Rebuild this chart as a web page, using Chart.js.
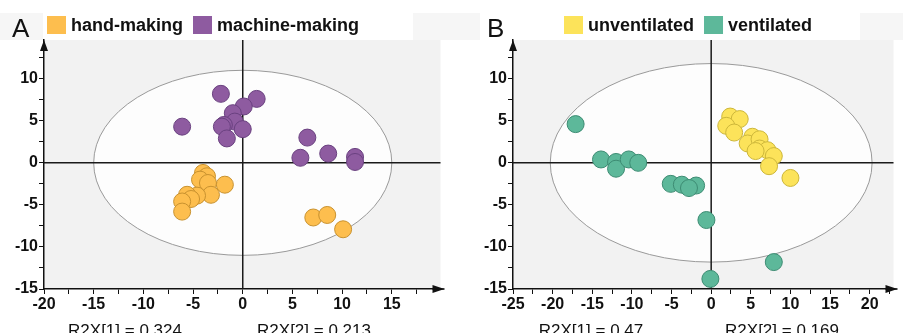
<!DOCTYPE html>
<html>
<head>
<meta charset="utf-8">
<script src="https://cdn.jsdelivr.net/npm/chart.js@4.4.1/dist/chart.umd.min.js"></script>
<style>
  body { margin: 0; background: #fff; }
  canvas { position: absolute; top: 0; }
  #chartA { left: 0; }
  #chartB { left: 450px; }
</style>
</head>
<body>
<canvas id="chartA" width="450" height="333"></canvas>
<canvas id="chartB" width="453" height="333"></canvas>
<script>
// scores, [t1, t2]
var handMaking = [[-4.0, -1.2], [-3.6, -1.6], [-4.3, -2.0], [-1.8, -2.6], [-3.5, -2.4], [-3.2, -3.8],
  [-4.6, -3.9], [-5.6, -3.8], [-5.2, -4.3], [-6.1, -4.6], [-6.1, -5.8], [7.1, -6.5], [8.5, -6.2], [10.1, -7.9]];
var machineMaking = [[-6.1, 4.3], [-2.2, 8.2], [1.4, 7.6], [0.1, 6.7], [-1.0, 5.9], [-0.8, 4.9], [-1.9, 4.5],
  [-2.1, 4.3], [0.0, 4.0], [-1.6, 2.9], [6.5, 3.0], [5.8, 0.6], [8.6, 1.1], [11.3, 0.7], [11.3, 0.1]];
var unventilated = [[2.4, 5.5], [3.6, 5.2], [1.9, 4.4], [2.9, 3.6], [5.2, 3.1], [4.6, 2.3], [6.1, 2.8],
  [6.1, 1.7], [7.1, 1.5], [5.6, 1.4], [7.9, 0.8], [7.3, -0.4], [10.0, -1.8]];
var ventilated = [[-17.1, 4.6], [-13.9, 0.4], [-12.0, 0.1], [-12.0, -0.7], [-10.4, 0.4], [-9.2, 0.0],
  [-5.1, -2.5], [-3.7, -2.6], [-1.9, -2.7], [-2.8, -3.0], [-0.6, -6.8], [-0.1, -13.8], [7.9, -11.8]];

var xRangeA = [-20, 19.9];
var xRangeB = [-25, 23];
var yRange = [-15, 14.6];
var ellipseA = [15, 11];   // semi axes in t1 / t2 units
var ellipseB = [20.3, 11.8];
var r2xA = ['R2X[1] = 0.324', 'R2X[2] = 0.213'];
var r2xB = ['R2X[1] = 0.47', 'R2X[2] = 0.169'];

var FONT = '"Liberation Sans", Arial, sans-serif';

function toPoints(arr) {
  return arr.map(function (p) { return { x: p[0], y: p[1] }; });
}

function ds(label, arr, fill, border) {
  return {
    label: label,
    data: toPoints(arr),
    backgroundColor: fill,
    borderColor: border,
    borderWidth: 1,
    pointRadius: 8.5,
    pointHoverRadius: 8.5
  };
}

function tickLabel(v) {
  return Math.abs(v % 5) < 1e-6 ? v : '';
}

// background, ellipse, cross lines, arrows, legend, panel letter and R2X texts
var pcaDecor = {
  id: 'pcaDecor',
  beforeDraw: function (chart, args, o) {
    var ctx = chart.ctx, a = chart.chartArea;
    var xs = chart.scales.x, ys = chart.scales.y;
    ctx.save();
    ctx.fillStyle = '#f6f6f6';
    ctx.fillRect(0, 13, chart.width, 27);
    ctx.fillStyle = '#ffffff';
    ctx.fillRect(o.legendBox[0], 13, o.legendBox[1], 27);
    ctx.fillStyle = '#f2f2f2';
    ctx.fillRect(a.left, a.top, a.right - a.left, a.bottom - a.top);
    var cx = xs.getPixelForValue(0), cy = ys.getPixelForValue(0);
    var rx = xs.getPixelForValue(o.ellipse[0]) - cx;
    var ry = cy - ys.getPixelForValue(o.ellipse[1]);
    ctx.beginPath();
    ctx.ellipse(cx, cy, rx, ry, 0, 0, Math.PI * 2);
    ctx.fillStyle = '#fdfdfd';
    ctx.fill();
    ctx.strokeStyle = '#9a9a9a';
    ctx.lineWidth = 1;
    ctx.stroke();
    ctx.restore();
  },
  beforeDatasetsDraw: function (chart) {
    var ctx = chart.ctx, a = chart.chartArea;
    var cx = chart.scales.x.getPixelForValue(0), cy = chart.scales.y.getPixelForValue(0);
    ctx.save();
    ctx.strokeStyle = '#1a1a1a';
    ctx.lineWidth = 1.5;
    ctx.beginPath();
    ctx.moveTo(cx, a.top); ctx.lineTo(cx, a.bottom);
    ctx.moveTo(a.left, cy); ctx.lineTo(a.right, cy);
    ctx.stroke();
    ctx.restore();
  },
  afterDraw: function (chart, args, o) {
    var ctx = chart.ctx, a = chart.chartArea;
    ctx.save();
    ctx.fillStyle = '#111';
    // y arrow
    ctx.beginPath();
    ctx.moveTo(a.left, a.top);
    ctx.lineTo(a.left - 4, a.top + 11);
    ctx.lineTo(a.left + 4, a.top + 11);
    ctx.closePath();
    ctx.fill();
    // x arrow
    ctx.beginPath();
    ctx.moveTo(a.right + 4, a.bottom);
    ctx.lineTo(a.right - 8, a.bottom - 4);
    ctx.lineTo(a.right - 8, a.bottom + 4);
    ctx.closePath();
    ctx.fill();
    ctx.fillRect(a.right - 8, a.bottom - 0.75, 12, 1.5);

    // panel letter
    ctx.font = '26px ' + FONT;
    ctx.textBaseline = 'alphabetic';
    ctx.fillText(o.letter, o.letterX, 37);

    // legend
    ctx.font = 'bold 18px ' + FONT;
    ctx.textBaseline = 'middle';
    var x = o.legendX;
    chart.data.datasets.forEach(function (d) {
      ctx.fillStyle = d.backgroundColor;
      ctx.fillRect(x, 16, 19, 18);
      ctx.fillStyle = '#111';
      ctx.fillText(d.label, x + 24, 26);
      x += 24 + ctx.measureText(d.label).width + 10;
    });

    // R2X texts
    ctx.font = '17px ' + FONT;
    ctx.textAlign = 'center';
    ctx.textBaseline = 'alphabetic';
    ctx.fillStyle = '#111';
    ctx.fillText(o.r2x[0], o.r2xPos[0], 336);
    ctx.fillText(o.r2x[1], o.r2xPos[1], 336);
    ctx.restore();
  }
};

function makeChart(id, datasets, xRange, yAxisWidth, padRight, decor) {
  var axisTicks = {
    color: '#111',
    font: { family: FONT, size: 16, weight: 'bold' },
    stepSize: 2.5,
    includeBounds: false,
    autoSkip: false,
    maxRotation: 0,
    padding: 1,
    callback: tickLabel
  };
  return new Chart(document.getElementById(id), {
    type: 'scatter',
    data: { datasets: datasets },
    options: {
      responsive: false,
      animation: false,
      events: [],
      layout: { padding: { top: 40, right: padRight, left: 0, bottom: 0 } },
      scales: {
        x: {
          min: xRange[0], max: xRange[1],
          ticks: axisTicks,
          grid: { drawOnChartArea: false, color: '#111', tickLength: 5, tickWidth: 1 },
          border: { display: true, color: '#111', width: 1.5 },
          afterFit: function (s) { s.height = 44; }
        },
        y: {
          min: yRange[0], max: yRange[1],
          ticks: axisTicks,
          grid: { drawOnChartArea: false, color: '#111', tickLength: 5, tickWidth: 1 },
          border: { display: true, color: '#111', width: 1.5 },
          afterFit: function (s) { s.width = yAxisWidth; }
        }
      },
      plugins: {
        legend: { display: false },
        tooltip: { enabled: false },
        pcaDecor: decor
      }
    },
    plugins: [pcaDecor]
  });
}

makeChart('chartA', [
  ds('hand-making', handMaking, '#fdbe4e', '#c9922f'),
  ds('machine-making', machineMaking, '#8e5ba0', '#6a4180')
], xRangeA, 44, 7, {
  letter: 'A', letterX: 12, legendX: 47, legendBox: [43, 370],
  ellipse: ellipseA, r2x: r2xA, r2xPos: [125, 314]
});

makeChart('chartB', [
  ds('unventilated', unventilated, '#fce35a', '#cdb73a'),
  ds('ventilated', ventilated, '#5db89a', '#3d8c73')
], xRangeB, 63, 6, {
  letter: 'B', letterX: 37, legendX: 114, legendBox: [30, 380],
  ellipse: ellipseB, r2x: r2xB, r2xPos: [141, 332]
});
</script>
</body>
</html>
